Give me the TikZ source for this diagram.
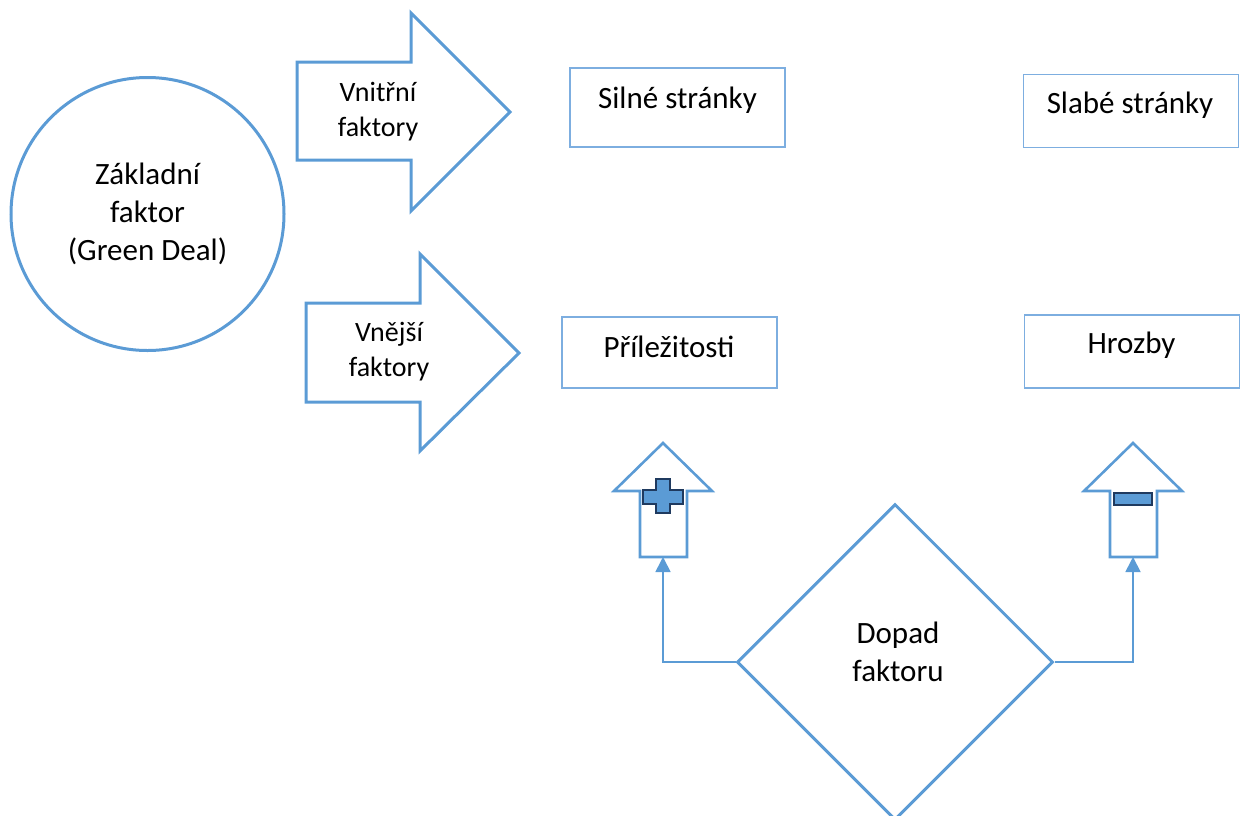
\documentclass[tikz,border=0pt]{standalone}
\usepackage{fontspec}
\setmainfont{Carlito}
\usetikzlibrary{shapes.geometric,arrows.meta}
\definecolor{mainblue}{HTML}{5B9BD5}
\definecolor{boxblue}{HTML}{7DAEE0}
\definecolor{navy}{HTML}{1F3A5F}
\begin{document}
\begin{tikzpicture}[x=1pt,y=-1pt,
  bigtxt/.style={font=\fontsize{31}{38}\selectfont,align=center,inner sep=0pt},
  arrtxt/.style={font=\fontsize{28}{35}\selectfont,align=center,inner sep=0pt},
  swotbox/.style={draw=boxblue,line width=1.8pt,minimum width=215pt,inner sep=0pt},
  shapeline/.style={draw=mainblue,line width=3pt,line join=miter},
  conn/.style={draw=mainblue,line width=1.8pt,-{Triangle[length=15pt,width=15pt]}},
  sign/.style={fill=mainblue,draw=navy,line width=2.4pt}
]
\useasboundingbox (0,0) rectangle (1245,815);
\clip (0,0) rectangle (1245,815);
% circle
\node[shapeline,circle,minimum size=273pt,inner sep=0pt] (core) at (147.5,214) {};
\node[bigtxt] (coretxt) at (147.5,214) {Základní\\faktor\\(Green Deal)};
% big arrow 1
\draw[shapeline] (297,62) -- (411,62) -- (411,13) -- (510,112) -- (411,211) -- (411,160) -- (297,160) -- cycle;
\node[arrtxt] (intxt) at (378,112) {Vnitřní\\faktory};
% big arrow 2
\draw[shapeline] (306,303) -- (420,303) -- (420,254) -- (519,353) -- (420,451) -- (420,402) -- (306,402) -- cycle;
\node[arrtxt] (extxt) at (389,352) {Vnější\\faktory};
% SWOT boxes
\node[swotbox,minimum height=79pt] (S) at (677.5,107.5) {};
\node[bigtxt] (Stxt) at (677.5,100) {Silné stránky};
\node[swotbox,minimum height=73pt] (W) at (1131,111) {};
\node[bigtxt] (Wtxt) at (1130,105) {Slabé stránky};
\node[swotbox,minimum height=71pt] (O) at (669.5,352.5) {};
\node[bigtxt] (Otxt) at (669,347) {Příležitosti};
\node[swotbox,minimum height=73pt] (T) at (1132,351.5) {};
\node[bigtxt] (Ttxt) at (1131.5,345) {Hrozby};
% up arrows
\draw[shapeline,line width=2.6pt] (640,557) -- (640,491) -- (614,491) -- (663,443) -- (712,491) -- (687,491) -- (687,557) -- cycle;
\coordinate (plusbot) at (663,557);
\draw[sign] (656,479) -- (670,479) -- (670,490) -- (683,490) -- (683,504) -- (670,504) -- (670,513) -- (656,513) -- (656,504) -- (643,504) -- (643,490) -- (656,490) -- cycle;
\draw[shapeline,line width=2.6pt] (1110,557) -- (1110,491) -- (1084,491) -- (1133,443) -- (1182,491) -- (1157,491) -- (1157,557) -- cycle;
\coordinate (minusbot) at (1133,557);
\draw[sign] (1114,493) rectangle (1152,505);
% diamond
\node[shapeline,diamond,aspect=1,minimum width=316pt,minimum height=316pt,inner sep=0pt] (dia) at (895,662) {};
\node[bigtxt] (diatxt) at (898,652) {Dopad\\faktoru};
% connectors
\draw[conn] (dia.west) -| (plusbot);
\draw[conn] (dia.east) -| (minusbot);
\end{tikzpicture}
\end{document}
